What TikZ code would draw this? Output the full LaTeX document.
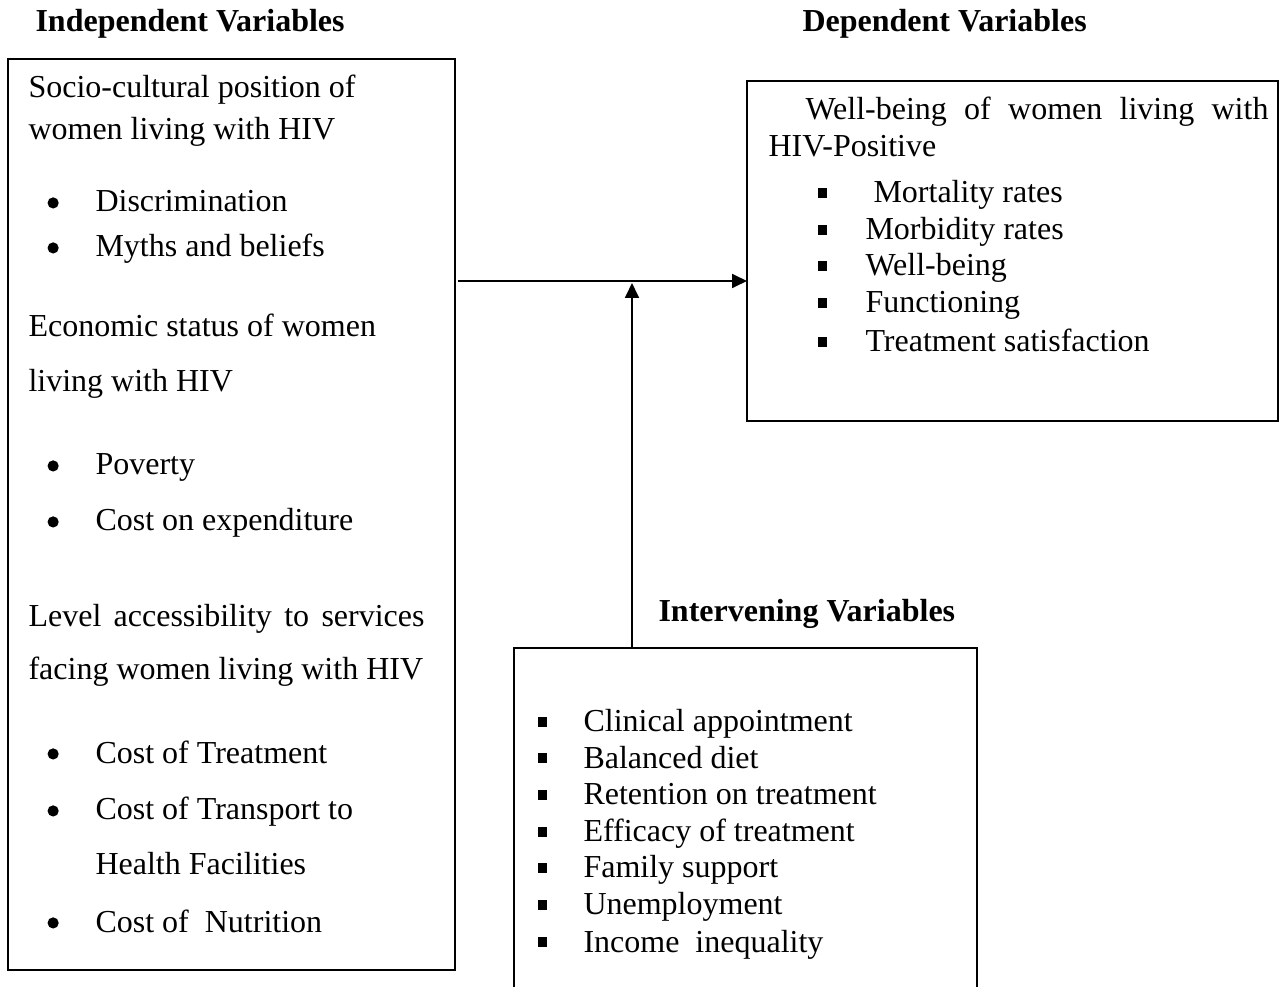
\documentclass[tikz,border=0pt]{standalone}
\usepackage{fontspec}
\setmainfont{Liberation Serif}
\usepackage{tikz}
\usetikzlibrary{arrows.meta,calc}
\tikzstyle{box} = [draw, line width=0.6pt, rectangle, inner sep=0pt, outer sep=0pt]
\tikzstyle{line} = [anchor=base west, inner sep=0pt]
\tikzstyle{title} = [anchor=base west, inner sep=0pt, font=\fontsize{12}{14}\selectfont\bfseries]
\tikzstyle{flow} = [line width=0.8pt, -{Triangle[length=5.6pt,width=5.2pt]}]
\newcommand{\roundbul}{\makebox[18pt][l]{\tikz[baseline=0pt]\fill (2.1pt,3.4pt) circle[radius=2.1pt];}}
\newcommand{\sqbul}{\makebox[18pt][l]{\rule[1.9pt]{3.7pt}{3.7pt}}}
\newcommand{\sqbulb}{\makebox[17.25pt][l]{\rule[1.9pt]{3.7pt}{3.7pt}}}

\begin{document}
\begin{tikzpicture}[x=0.375pt, y=-0.375pt, font=\fontsize{12}{14}\selectfont]
	\useasboundingbox (0,0) rectangle (1280,987);
	\clip (0,0) rectangle (1280,987);
	% boxes
	\node[box, minimum width=447*0.375pt, minimum height=911*0.375pt] (indep) at (231.5,514.5) {};
	\node[box, minimum width=531*0.375pt, minimum height=340*0.375pt] (dep) at (1012.5,251) {};
	\node[box, minimum width=463*0.375pt, minimum height=352*0.375pt] (interv) at (745.5,824) {};
	% titles
	\node[title] (indtitle) at (35,32) {Independent Variables};
	\node[title] (deptitle) at (802,32) {Dependent Variables};
	\node[title] (intitle) at (658,622) {Intervening Variables};
	% independent variables
	\node[line] (soc) at (28,98) {Socio-cultural position of};
	\node[line] (soc2) at (28,140) {women living with HIV};
	\foreach \txt/\yy [count=\i] in {Discrimination/212, Myths and beliefs/257}
		\node[line] (socitem\i) at (47,\yy) {\roundbul\txt};
	\node[line] (eco) at (28,337) {Economic status of women};
	\node[line] (eco2) at (28,392) {living with HIV};
	\foreach \txt/\yy [count=\i] in {Poverty/475, Cost on expenditure/531}
		\node[line] (ecoitem\i) at (47,\yy) {\roundbul\txt};
	\node[line] (acc) at (28,627) {\makebox[148.5pt][s]{Level accessibility to services}};
	\node[line] (acc2) at (28,680) {facing women living with HIV};
	\foreach \txt/\yy [count=\i] in {Cost of Treatment/763, Cost of Transport to/820, Cost of~ Nutrition/932}
		\node[line] (accitem\i) at (47,\yy) {\roundbul\txt};
	\node[line] (accitem2b) at (95,875) {Health Facilities};
	% dependent variables
	\node[line] (well) at (805,120) {\makebox[173.6pt][s]{Well-being of women living with}};
	\node[line] (well2) at (768,157) {HIV-Positive};
	\foreach \txt/\yy [count=\i] in {~Mortality rates/203, Morbidity rates/240, Well-being/276, Functioning/313, Treatment satisfaction/352}
		\node[line] (depitem\i) at (817,\yy) {\sqbul\txt};
	% intervening variables
	\foreach \txt/\yy [count=\i] in {Clinical appointment/732, Balanced diet/768, Retention on treatment/805, Efficacy of treatment/842, Family support/878, Unemployment/915, Income~ inequality/952}
		\node[line] (initem\i) at (537,\yy) {\sqbulb\txt};
	% arrows
	\coordinate (join) at (632,281);
	\draw[flow] ([xshift=1.1pt]indep.east |- join) -- (dep.west |- join);
	\draw[flow] (interv.north -| join) -- ([yshift=-0.75pt]join);
\end{tikzpicture}
\end{document}
